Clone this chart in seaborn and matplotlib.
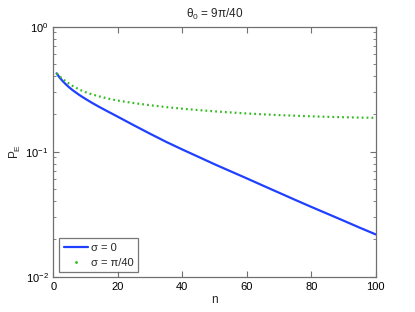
import numpy as np
import pandas as pd
import matplotlib
matplotlib.use("Agg")
import matplotlib.pyplot as plt
from matplotlib.lines import Line2D
import seaborn as sns

# 읽어낸 값 (n, P_E)
n_vals = [1, 2, 3, 4, 5, 6, 8, 10, 12, 14, 16, 18, 20, 25, 30, 35, 40, 45, 50,
          55, 60, 65, 70, 75, 80, 85, 90, 95, 100]
pe_sigma0 = [0.4236, 0.3908, 0.3648, 0.3436, 0.3258, 0.3105, 0.2851, 0.2642, 0.2460,
             0.2301, 0.2158, 0.2028, 0.1905, 0.1626, 0.1393, 0.1199, 0.1042, 0.0910,
             0.0794, 0.0697, 0.0612, 0.0536, 0.0470, 0.0412, 0.0362, 0.0319, 0.0281,
             0.0247, 0.0218]
pe_sigma_pi40 = [0.4236, 0.3999, 0.3802, 0.3631, 0.3483, 0.3357, 0.3148, 0.2992, 0.2877,
                 0.2780, 0.2698, 0.2624, 0.2564, 0.2449, 0.2355, 0.2275, 0.2208, 0.2153,
                 0.2104, 0.2061, 0.2023, 0.1991, 0.1963, 0.1941, 0.1919, 0.1901, 0.1888,
                 0.1875, 0.1866]
labels = ['σ = 0', 'σ = π/40']

df = pd.DataFrame({'n': n_vals, 'sigma0': pe_sigma0, 'sigma_pi40': pe_sigma_pi40})

sns.set_style("ticks")
plt.rcParams['font.family'] = ['Liberation Sans', 'DejaVu Sans']
plt.rcParams['mathtext.fontset'] = 'custom'
plt.rcParams['mathtext.rm'] = 'Liberation Sans'
plt.rcParams['mathtext.it'] = 'Liberation Sans'

fig = plt.figure(figsize=(4.15, 3.12), dpi=100)
ax = fig.add_axes([0.1285, 0.1131, 0.7768, 0.8013])

blue = '#2040ff'
green = '#33bb22'
sns.lineplot(data=df, x='n', y='sigma0', ax=ax, color=blue, lw=1.6)
sns.lineplot(data=df, x='n', y='sigma_pi40', ax=ax, color=green, lw=1.6,
             linestyle=(0, (0.8, 1.4)))

ax.set_yscale('log')
ax.set_xlim(0, 100)
ax.set_ylim(1e-2, 1)
ax.set_xticks([0, 20, 40, 60, 80, 100])
ax.set_xlabel('n', fontsize=8.5, labelpad=2)
ax.set_ylabel(r'P$_{\mathrm{E}}$', fontsize=8.5, labelpad=2)
ax.set_title(r'$\theta_0$ = 9π/40', fontsize=8.5, pad=6)

for s in ax.spines.values():
    s.set_color('#707070')
    s.set_linewidth(0.9)
ax.tick_params(which='both', direction='in', top=True, right=True,
               colors='#707070', labelcolor='black', labelsize=8)
ax.tick_params(which='major', length=4)
ax.tick_params(which='minor', length=2)

# 범례: 점선은 점 하나로 표시
handles = [Line2D([], [], color=blue, lw=1.6),
           Line2D([], [], color=green, marker='.', markersize=2, linestyle='none')]
leg = ax.legend(handles, labels, loc='lower left', bbox_to_anchor=(0.018, 0.018),
                fontsize=8, frameon=True, fancybox=False, borderaxespad=0,
                handlelength=2.2, handletextpad=0.3, labelspacing=0.45, borderpad=0.4)
leg.get_frame().set_edgecolor('#555555')
leg.get_frame().set_linewidth(0.9)

fig.savefig('out.png', dpi=100)
